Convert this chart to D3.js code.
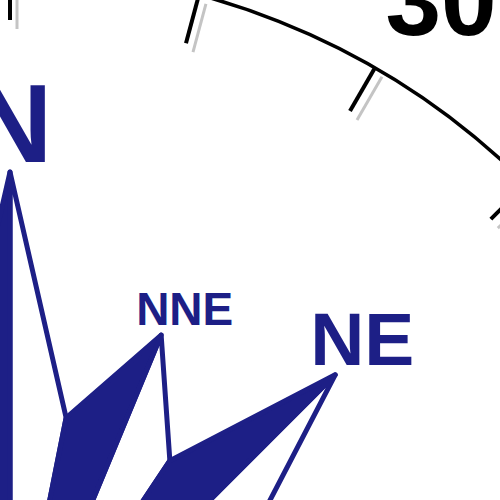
<!DOCTYPE html>
<html><head><meta charset="utf-8">
<script src="https://cdn.jsdelivr.net/npm/d3@7"></script>
<style>html,body{margin:0;padding:0;background:#fff;overflow:hidden}</style>
</head><body>
<svg id="c" width="500" height="500"></svg>
<script>
// ---- data ----
const directions = ["N","NNE","NE","ENE","E","ESE","SE","SSE","S","SSW","SW","WSW","W","WNW","NW","NNW"];
const directionDegrees = [0,22.5,45,67.5,90,112.5,135,157.5,180,202.5,225,247.5,270,292.5,315,337.5];
const armLengths = [1,0.748,0.871,0.748,1,0.748,0.871,0.748,1,0.748,0.871,0.748,1,0.748,0.871,0.748];
const tickDegrees = [0,15,30,45,60,75,90,105,120,135,150,165,180,195,210,225,240,255,270,285,300,315,330,345];
const degreeLabelValues = [0,30,60,90,120,150,180,210,240,270,300,330];
const degreeLabels = ["0","30","60","90","120","150","180","210","240","270","300","330"];

// ---- layout ----
const cx = 10, cy = 700;
const navy = "#1d1f86";
const font = "'Liberation Sans', Arial, Helvetica, sans-serif";
const angle = d3.scaleLinear().domain([0,360]).range([0, 2*Math.PI]);
const radius = d3.scaleLinear().domain([0,1]).range([0,528]);
const sideR = 0.545, halfSpan = 11.25;
const ringR = 730, tickLen = 50;
const fontByRank = {1:112, 0.871:75, 0.748:46};
function polar(deg, r){ const a = angle(deg); return [cx + r*Math.sin(a), cy - r*Math.cos(a)]; }

const svg = d3.select("#c");
const line = d3.line();

// ring
svg.append("circle").attr("cx",cx).attr("cy",cy).attr("r",ringR)
  .attr("fill","none").attr("stroke","#000").attr("stroke-width",3.5);

// tick shadows then ticks
const tg = svg.append("g");
tg.selectAll("line.sh").data(tickDegrees).join("line").attr("class","sh")
  .attr("x1",d=>polar(d,ringR)[0]+7).attr("y1",d=>polar(d,ringR)[1]+9)
  .attr("x2",d=>polar(d,ringR-tickLen)[0]+7).attr("y2",d=>polar(d,ringR-tickLen)[1]+9)
  .attr("stroke","#c4c4c4").attr("stroke-width",3);
tg.selectAll("line.tk").data(tickDegrees).join("line").attr("class","tk")
  .attr("x1",d=>polar(d,ringR)[0]).attr("y1",d=>polar(d,ringR)[1])
  .attr("x2",d=>polar(d,ringR-tickLen)[0]).attr("y2",d=>polar(d,ringR-tickLen)[1])
  .attr("stroke","#000").attr("stroke-width",4);

// degree labels
svg.append("g").selectAll("text").data(degreeLabelValues).join("text")
  .attr("x",d=>polar(d,ringR+80)[0]+26).attr("y",d=>polar(d,ringR+80)[1]+36)
  .attr("text-anchor","middle").attr("font-family",font).attr("font-weight","bold")
  .attr("font-size",100).attr("fill","#000")
  .text((d,i)=>degreeLabels[i]);

// rose arms
const arms = directions.map((name,i)=>({name, deg:directionDegrees[i], len:armLengths[i]}));
const ag = svg.append("g");
arms.forEach(a=>{
  const tip = polar(a.deg, radius(a.len));
  const left = polar(a.deg - halfSpan, radius(sideR));
  const right = polar(a.deg + halfSpan, radius(sideR));
  ag.append("path").attr("d", line([tip,left,[cx,cy]])+"Z")
    .attr("fill",navy).attr("stroke",navy).attr("stroke-width",5).attr("stroke-linejoin","round");
  ag.append("path").attr("d", line([tip,right,[cx,cy]])+"Z")
    .attr("fill","none").attr("stroke",navy).attr("stroke-width",5).attr("stroke-linejoin","round");
});

// direction labels
svg.append("g").selectAll("text").data(arms).join("text")
  .attr("x",d=>{const t=polar(d.deg,radius(d.len)); return d.deg%90===0 ? t[0]+2 : t[0]-25;})
  .attr("y",d=>polar(d.deg,radius(d.len))[1]-10)
  .attr("text-anchor",d=>d.deg%90===0?"middle":"start")
  .attr("font-family",font).attr("font-weight","bold")
  .attr("font-size",d=>fontByRank[d.len]).attr("fill",navy)
  .text(d=>d.name);
</script>
</body></html>
